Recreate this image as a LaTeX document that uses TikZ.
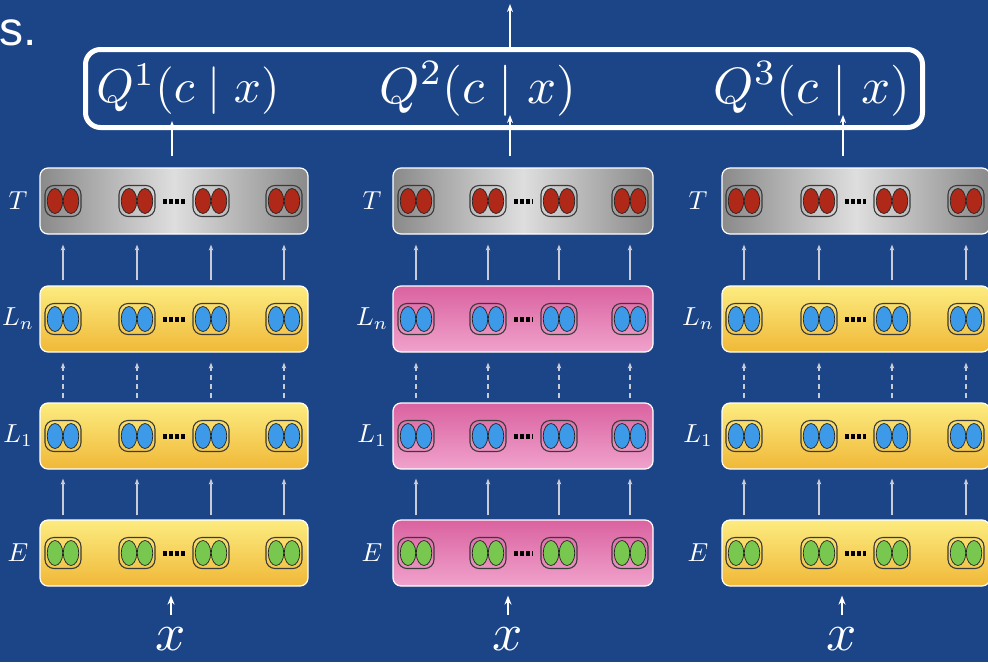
\documentclass[tikz,border=0pt]{standalone}
\usepackage{fontspec}
\newfontfamily\sansfont{Liberation Sans}
\usetikzlibrary{arrows.meta,shapes.geometric}
\definecolor{bg}{HTML}{1C4587}
\definecolor{gdark}{HTML}{8A8A8A}
\definecolor{glight}{HTML}{DEDEDE}
\definecolor{ytop}{HTML}{FCEC80}
\definecolor{ybot}{HTML}{F0B838}
\definecolor{ptop}{HTML}{DA62A0}
\definecolor{pbot}{HTML}{F0A2CC}
\definecolor{ured}{HTML}{B02818}
\definecolor{ublue}{HTML}{3C9AE8}
\definecolor{ugreen}{HTML}{78C850}
\definecolor{pillc}{HTML}{3A3A3A}
\definecolor{arrc}{HTML}{C8CCD8}
\newcommand\mybigmath[2]{\scalebox{#1}{$#2$}}
\tikzset{
  layer/.style={draw=white, line width=1.2pt, rounded corners=8pt, minimum height=66pt, inner sep=0pt},
  graybox/.style={layer, left color=gdark, right color=gdark, middle color=glight},
  yellowbox/.style={layer, top color=ytop, bottom color=ybot},
  pinkbox/.style={layer, top color=ptop, bottom color=pbot},
  lay1/.style={yellowbox}, lay2/.style={pinkbox}, lay3/.style={yellowbox},
  pill/.style={draw=pillc, line width=1.1pt, rounded corners=9pt, minimum width=36pt, minimum height=31pt, inner sep=0pt},
  unit/.style={ellipse, draw=black!85, line width=0.7pt, minimum width=15.5pt, minimum height=25pt, inner sep=0pt},
  dotsline/.style={draw=black, line width=5pt, dash pattern=on 4pt off 2pt},
  lab/.style={text=white, inner sep=0pt},
  qtext/.style={text=white, inner sep=0pt},
  xlab/.style={text=white, inner sep=0pt},
  carr/.style={draw=arrc, line width=1.2pt, -{Stealth[length=6pt,width=4.5pt]}},
  darr/.style={carr, dash pattern=on 5pt off 4pt},
  qarr/.style={draw=white, line width=1.8pt, -{Stealth[length=8pt,width=6pt]}},
  inarr/.style={draw=white, line width=2.5pt, -{Stealth[length=9pt,width=7pt]}},
}
\begin{document}
\begin{tikzpicture}[x=1pt,y=1pt]
\fill[bg] (0,0) rectangle (988,-662);
\useasboundingbox (0,0) rectangle (988,-662);

\node[anchor=base west, inner sep=0pt, text=white, font=\sansfont\fontsize{48}{50}\selectfont] (stext) at (-1,-45) {s.};

% Q box
\node[draw=white, line width=5pt, rounded corners=15pt, minimum width=837pt, minimum height=78pt, inner sep=0pt] (qbox) at (504,-88.5) {};
\node[qtext] (q1) at (188,-89) {\mybigmath{4.75}{Q^1(c\mid x)}};
\node[qtext] (q2) at (478,-89) {\mybigmath{5.1}{Q^2(c\mid x)}};
\node[qtext] (q3) at (812,-89) {\mybigmath{5.1}{Q^3(c\mid x)}};

\foreach \c/\l/\r/\pa/\pb/\pc/\pd/\lx/\xa/\qa/\qt in {1/40/308/63/137/211/284/18/171/172/121, 2/393/653/416/488/559/630/372/508/510/115, 3/722/990/744/819/892/966/698/842/843/115}{
  \pgfmathsetmacro\cx{(\l+\r)/2}
  \pgfmathsetmacro\w{\r-\l}
  \foreach \rn/\ry/\st/\uc/\lab in {T/201/graybox/ured/T, Ln/319/lay\c/ublue/L_n, L1/436/lay\c/ublue/L_1, E/553/lay\c/ugreen/E}{
    \node[\st, minimum width=\w pt] (c\c\rn) at (\cx,-\ry) {};
    \node[lab] (c\c\rn-lab) at (\lx,-\ry) {\mybigmath{2.6}{\lab}};
    \foreach \k/\px in {1/\pa,2/\pb,3/\pc,4/\pd}{
      \node[pill] (c\c\rn-p\k) at (\px,-\ry) {};
      \node[unit, fill=\uc] (c\c\rn-p\k a) at (\px-8,-\ry) {};
      \node[unit, fill=\uc] (c\c\rn-p\k b) at (\px+8,-\ry) {};
    }
    \coordinate (c\c\rn-d1) at (\pb+26,-\ry);
    \coordinate (c\c\rn-d2) at (\pc-26,-\ry);
    \draw[dotsline] (c\c\rn-d1) -- (c\c\rn-d2);
  }
  \foreach \k in {1,2,3,4}{
    \draw[carr, shorten <=5pt, shorten >=10pt] (c\c Ln-p\k |- c\c Ln.north) -- (c\c Ln-p\k |- c\c T.south);
    \draw[darr, shorten <=4pt, shorten >=10pt] (c\c L1-p\k |- c\c L1.north) -- (c\c L1-p\k |- c\c Ln.south);
    \draw[carr, shorten <=4pt, shorten >=9pt] (c\c E-p\k |- c\c E.north) -- (c\c E-p\k |- c\c L1.south);
  }
  \node[xlab] (c\c x) at (\xa,-639) {\mybigmath{5.3}{x}};
  \coordinate (c\c xin) at (\xa,-615);
  \draw[inarr, shorten >=9pt] (c\c xin) -- (c\c xin |- c\c E.south);
  \coordinate (c\c qin) at (\qa,-\qt);
  \draw[qarr, shorten <=11pt] (c\c qin |- c\c T.north) -- (c\c qin);
}
\coordinate (topstart) at (510,-52);
\coordinate (topend) at (510,-4);
\draw[qarr] (topstart) -- (topend);
\end{tikzpicture}
\end{document}
